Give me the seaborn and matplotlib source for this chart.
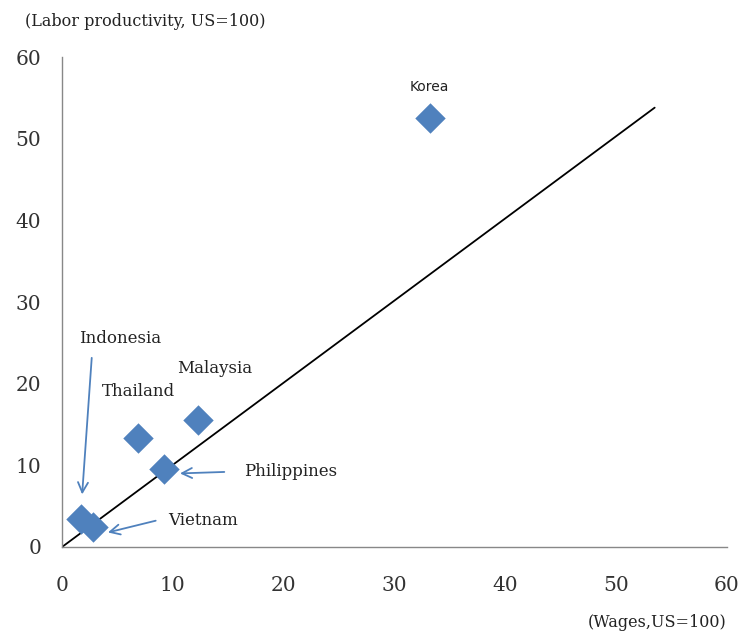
import matplotlib
matplotlib.use("Agg")
import matplotlib.pyplot as plt
import seaborn as sns
import pandas as pd

countries = ["Korea", "Malaysia", "Thailand", "Philippines", "Indonesia", "Vietnam"]
wages = [33.2, 12.3, 6.9, 9.2, 1.7, 2.8]
productivity = [52.5, 15.6, 13.3, 9.5, 3.4, 2.5]
line_x = [0, 53.5]
line_y = [0, 53.8]
x_ticks = [0, 10, 20, 30, 40, 50, 60]
y_ticks = [0, 10, 20, 30, 40, 50, 60]

df = pd.DataFrame({"country": countries, "wages": wages, "productivity": productivity})

sns.set_style("white")
plt.rcParams["font.family"] = ["DejaVu Serif"]

blue = "#4F81BD"
ink = "#222222"
fig = plt.figure(figsize=(7.4, 6.35), dpi=100)
ax = fig.add_axes([0.0838, 0.1386, 0.8982, 0.7716])

sns.lineplot(x=line_x, y=line_y, ax=ax, color="black", linewidth=1.3)
sns.scatterplot(data=df, x="wages", y="productivity", ax=ax, marker="D",
                s=240, color=blue, edgecolor=blue, linewidth=0, zorder=3)

ax.set_xlim(0, 60)
ax.set_ylim(0, 60)
ax.set_xticks(x_ticks)
ax.set_yticks(y_ticks)
ax.set_xlabel("")
ax.set_ylabel("")
for s in ["top", "right"]:
    ax.spines[s].set_visible(False)
for s in ["left", "bottom"]:
    ax.spines[s].set_color("#888888")
    ax.spines[s].set_linewidth(1.0)
ax.tick_params(axis="both", direction="out", length=5, width=1, color="#888888",
               labelsize=14.5, labelcolor="#333333")
ax.tick_params(axis="x", pad=16)
ax.tick_params(axis="y", pad=10)

ax.text(-3.3, 64.3, "(Labor productivity, US=100)", fontsize=11.5, ha="left", va="center",
        color=ink, clip_on=False)
ax.text(60.0, -9.2, "(Wages,US=100)", fontsize=11.5, ha="right", va="center",
        color=ink, clip_on=False)

ax.text(33.2, 56.3, "Korea", fontsize=10, family=["DejaVu Sans"], ha="center",
        va="center", color=ink)
label_kw = dict(fontsize=12, ha="center", va="center", color=ink)
ax.text(13.8, 21.9, "Malaysia", **label_kw)
ax.text(6.9, 19.0, "Thailand", **label_kw)
ax.text(5.2, 25.5, "Indonesia", **label_kw)
ax.text(20.6, 9.2, "Philippines", **label_kw)
ax.text(12.7, 3.3, "Vietnam", **label_kw)

arrow = dict(arrowstyle="->", color=blue, lw=1.3, mutation_scale=18)
ax.annotate("", xy=(1.8, 6.1), xytext=(2.7, 23.5), arrowprops=arrow)
ax.annotate("", xy=(10.4, 9.0), xytext=(14.9, 9.2), arrowprops=arrow)
ax.annotate("", xy=(3.9, 1.7), xytext=(8.7, 3.3), arrowprops=arrow)

fig.savefig("out.png", dpi=100)
